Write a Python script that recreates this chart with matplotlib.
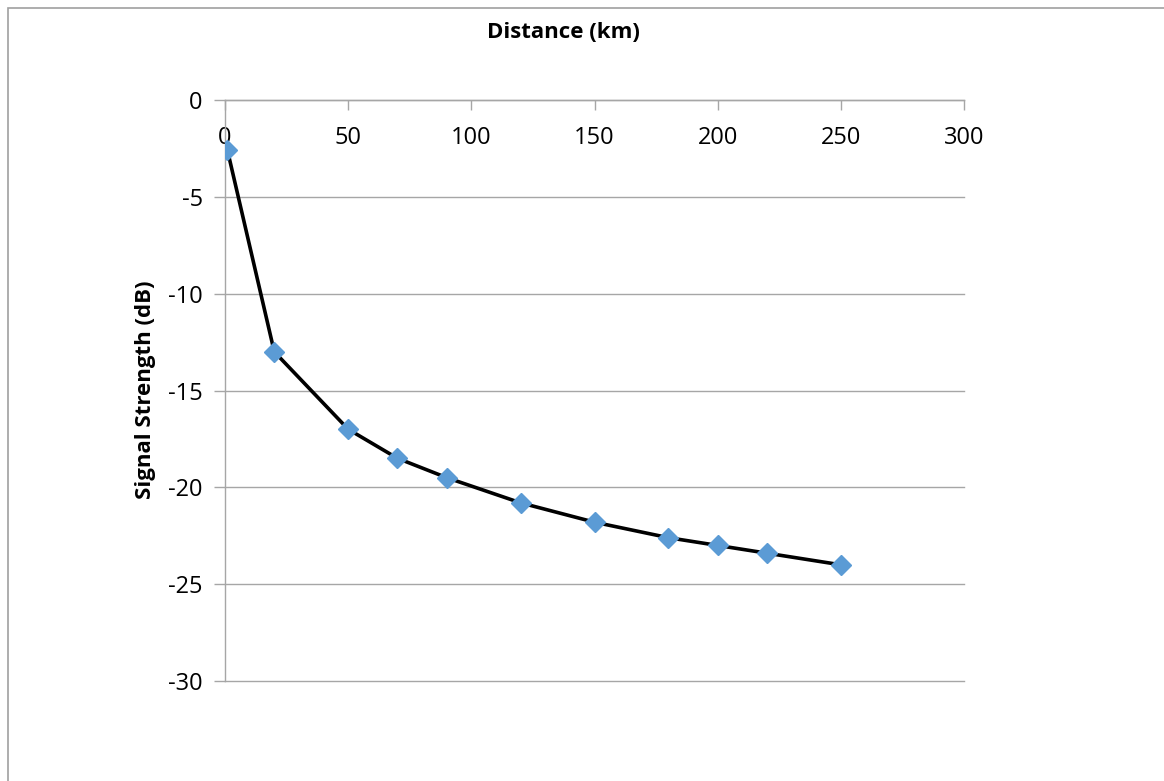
import matplotlib
matplotlib.use("Agg")
import matplotlib.pyplot as plt
from matplotlib.patches import Rectangle

distance_km = [1, 20, 50, 70, 90, 120, 150, 180, 200, 220, 250]
signal_db = [-2.6, -13.0, -17.0, -18.5, -19.5, -20.8, -21.8, -22.6, -23.0, -23.4, -24.0]
x_ticks = [0, 50, 100, 150, 200, 250, 300]
y_ticks = [0, -5, -10, -15, -20, -25, -30]

plt.rcParams['font.family'] = ['Open Sans', 'DejaVu Sans']
plt.rcParams['axes.unicode_minus'] = False

W, H = 1164, 781
fig = plt.figure(figsize=(W / 100, H / 100), dpi=100)
ax = fig.add_axes([225 / W, 1 - 681 / H, (964 - 225) / W, (681 - 100) / H])

grid_c = '#A6A6A6'
ax.plot(distance_km, signal_db, color='black', lw=2.6, zorder=3,
        marker='D', markersize=10, markerfacecolor='#5B9BD5',
        markeredgecolor='#5B9BD5')

ax.set_xlim(0, 300)
ax.set_ylim(-30, 0)
ax.set_xticks(x_ticks)
ax.set_yticks(y_ticks)
ax.xaxis.tick_top()
ax.tick_params(axis='x', direction='in', length=7, color=grid_c, width=1,
               labelsize=17, pad=-36, top=True, bottom=False)
ax.tick_params(axis='y', direction='out', length=8, color=grid_c, width=1,
               labelsize=17, pad=8)
ax.yaxis.grid(True, color=grid_c, lw=1)
for gl in ax.get_ygridlines():
    gl.set_clip_on(False)
ax.set_axisbelow(True)
for s in ['right', 'bottom']:
    ax.spines[s].set_visible(False)
for s in ['left', 'top']:
    ax.spines[s].set_color(grid_c)
    ax.spines[s].set_linewidth(1)

fig.text(563 / W, 1 - 33 / H, 'Distance (km)', ha='center', va='center',
         fontsize=16, fontweight='bold')
fig.text(145 / W, 1 - 390 / H, 'Signal Strength (dB)', ha='center', va='center',
         rotation=90, fontsize=16, fontweight='bold')

fig.patches.append(Rectangle((7.5 / W, -0.1), 1.2, 1 - 8.5 / H + 0.1,
                             transform=fig.transFigure, fill=False,
                             edgecolor='#A0A0A0', lw=1.2))

fig.savefig('out.png', dpi=100)
